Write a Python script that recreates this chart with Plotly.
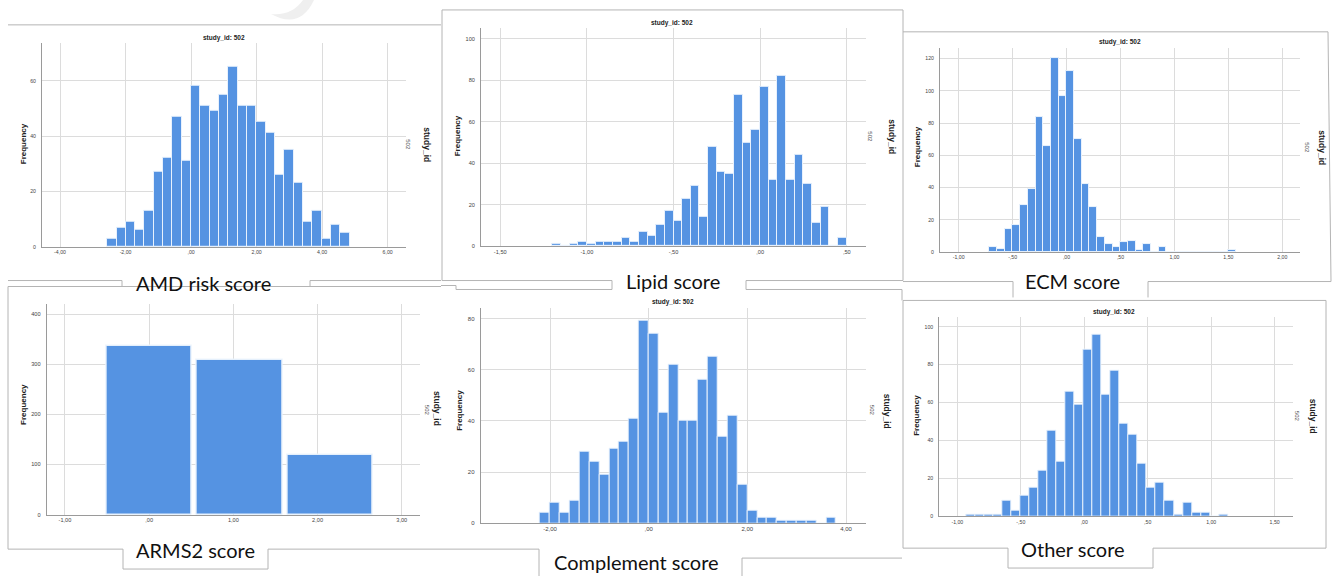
import numpy as np
import plotly.graph_objects as go

W, H = 1340, 579

# ---------------- data ----------------
amd_counts = [3, 7, 9, 6, 13, 27, 32, 47, 31, 58, 51, 49, 55, 65, 51, 51, 45, 41, 26, 35, 23, 9, 13, 3, 8, 5]
amd_bin_start, amd_bin_width = -2.56, 0.2845
amd_xticks = [-4, -2, 0, 2, 4, 6]
amd_xticktext = ["-4,00", "-2,00", ",00", "2,00", "4,00", "6,00"]
amd_yticks = [0, 20, 40, 60]

lipid_counts = [1, 0, 1, 2, 1, 2, 2, 2, 4, 2, 7, 5, 10, 17, 12, 23, 29, 14, 48, 36, 35, 73, 50, 56, 77, 32,
                82, 32, 44, 30, 11, 19, 0, 4]
lipid_bin_start, lipid_bin_width = -1.2, 0.05
lipid_xticks = [-1.5, -1.0, -0.5, 0.0, 0.5]
lipid_xticktext = ["-1,50", "-1,00", "-,50", ",00", ",50"]
lipid_yticks = [0, 20, 40, 60, 80, 100]

ecm_counts = [3, 2, 14, 17, 29, 39, 84, 66, 120, 97, 112, 70, 42, 28, 9, 5, 3, 6, 7, 1, 5, 0, 3,
              0, 0, 0, 0, 0, 0, 0, 0, 1]
ecm_bin_start, ecm_bin_width = -0.716, 0.0714
ecm_xticks = [-1.0, -0.5, 0.0, 0.5, 1.0, 1.5, 2.0]
ecm_xticktext = ["-1,00", "-,50", ",00", ",50", "1,00", "1,50", "2,00"]
ecm_yticks = [0, 20, 40, 60, 80, 100, 120]

arms2_centers = [0.0, 1.075, 2.15]
arms2_counts = [336, 309, 118]
arms2_xticks = [-1, 0, 1, 2, 3]
arms2_xticktext = ["-1,00", ",00", "1,00", "2,00", "3,00"]
arms2_yticks = [0, 100, 200, 300, 400]

comp_counts = [4, 8, 4, 9, 28, 24, 19, 29, 32, 41, 79, 74, 43, 62, 40, 40, 56, 65, 34, 42, 15, 5, 2, 2,
               1, 1, 1, 1, 0, 2]
comp_bin_start, comp_bin_width = -2.2, 0.2
comp_xticks = [-2, 0, 2, 4]
comp_xticktext = ["-2,00", ",00", "2,00", "4,00"]
comp_yticks = [0, 20, 40, 60, 80]

other_counts = [1, 1, 1, 1, 8, 3, 11, 15, 24, 45, 29, 66, 59, 88, 96, 64, 77, 49, 43, 28, 15, 18, 8, 1,
                7, 2, 2, 0, 1]
other_bin_start, other_bin_width = -0.930, 0.0711
other_xticks = [-1.0, -0.5, 0.0, 0.5, 1.0, 1.5]
other_xticktext = ["-1,00", "-,50", ",00", ",50", "1,00", "1,50"]
other_yticks = [0, 20, 40, 60, 80, 100]

captions = ["AMD risk score", "Lipid score", "ECM score", "ARMS2 score", "Complement score", "Other score"]
panel_title = "study_id: 502"
panel_var = "study_id"
panel_val = "502"
y_title = "Frequency"


def centers(start, width, counts):
    return list(start + width * (np.arange(len(counts)) + 0.5))


# ---------------- layout (pixel geometry) ----------------
panels = [
    dict(x=centers(amd_bin_start, amd_bin_width, amd_counts), y=amd_counts, w=amd_bin_width,
         xt=amd_xticks, xtt=amd_xticktext, yt=amd_yticks,
         px=(42, 406, 43, 248), xr=(-4.55, 6.56), ytop=73.7, fs=5.2,
         title=(224, 38), freq=(23, 145), sid=(427, 145), val=(408, 145), cap=(203, 284)),
    dict(x=centers(lipid_bin_start, lipid_bin_width, lipid_counts), y=lipid_counts, w=lipid_bin_width,
         xt=lipid_xticks, xtt=lipid_xticktext, yt=lipid_yticks,
         px=(481, 866, 28, 247.3), xr=(-1.611, 0.611), ytop=105.3, fs=5.6,
         title=(672, 23), freq=(457, 137), sid=(892, 137), val=(870, 137), cap=(672.5, 282)),
    dict(x=centers(ecm_bin_start, ecm_bin_width, ecm_counts), y=ecm_counts, w=ecm_bin_width,
         xt=ecm_xticks, xtt=ecm_xticktext, yt=ecm_yticks,
         px=(940, 1300, 48.3, 253.3), xr=(-1.173, 2.164), ytop=126.5, fs=5.2,
         title=(1120, 42), freq=(917, 148), sid=(1322, 148), val=(1307, 148), cap=(1072.7, 282)),
    dict(x=arms2_centers, y=arms2_counts, w=1.02,
         xt=arms2_xticks, xtt=arms2_xticktext, yt=arms2_yticks,
         px=(46.7, 420, 305.7, 517.3), xr=(-1.217, 3.217), ytop=420, fs=5.6,
         title=None, freq=(24, 407), sid=(437, 410), val=(427, 412), cap=(195, 553)),
    dict(x=centers(comp_bin_start, comp_bin_width, comp_counts), y=comp_counts, w=comp_bin_width,
         xt=comp_xticks, xtt=comp_xticktext, yt=comp_yticks,
         px=(480.7, 866, 309.3, 526), xr=(-3.405, 4.405), ytop=84.2, fs=6.0,
         title=(673, 303.5), freq=(460, 413), sid=(887, 413), val=(872, 413), cap=(636, 565)),
    dict(x=centers(other_bin_start, other_bin_width, other_counts), y=other_counts, w=other_bin_width,
         xt=other_xticks, xtt=other_xticktext, yt=other_yticks,
         px=(939.3, 1292.7, 318.3, 519), xr=(-1.142, 1.642), ytop=105.3, fs=5.2,
         title=(1114, 313.5), freq=(917, 418), sid=(1313, 418), val=(1297, 418), cap=(1073, 552)),
]

BAR = "#5593E2"
GRID = "#dcdcdc"
AXIS = "#9a9a9a"
FRAME = "#b4b4b4"
TXT = "#222222"


def fx(p):
    return p / W


def fy(p):
    return 1 - p / H


fig = go.Figure()
annotations = []
layout = {}

for i, p in enumerate(panels):
    n = "" if i == 0 else str(i + 1)
    x0, x1, top, bot = p["px"]
    fig.add_trace(go.Bar(
        x=p["x"], y=p["y"], width=p["w"],
        marker=dict(color=BAR, line=dict(color="rgba(235,243,253,0.95)", width=1 if i != 3 else 1.5)),
        xaxis="x" + n, yaxis="y" + n, showlegend=False, hoverinfo="x+y"))
    layout["xaxis" + n] = dict(
        domain=[fx(x0), fx(x1)], anchor="y" + n, range=list(p["xr"]),
        tickmode="array", tickvals=p["xt"], ticktext=p["xtt"],
        showgrid=True, gridcolor=GRID, gridwidth=1, zeroline=False,
        showline=True, linecolor=AXIS, linewidth=1, ticks="",
        tickfont=dict(family="Liberation Sans, Arial", size=p["fs"], color="#444"),
        fixedrange=True)
    layout["yaxis" + n] = dict(
        domain=[fy(bot), fy(top)], anchor="x" + n, range=[0, p["ytop"]],
        tickmode="array", tickvals=p["yt"],
        showgrid=True, gridcolor=GRID, gridwidth=1, zeroline=False,
        showline=True, linecolor=AXIS, linewidth=1, ticks="",
        ticklabelstandoff=4,
        tickfont=dict(family="Liberation Sans, Arial", size=p["fs"], color="#444"),
        fixedrange=True)

    def ann(text, pos, size, bold=False, angle=0, family="Liberation Sans, Arial", color=TXT):
        annotations.append(dict(
            text=("<b>%s</b>" % text) if bold else text,
            x=fx(pos[0]), y=fy(pos[1]), xref="paper", yref="paper",
            xanchor="center", yanchor="middle", showarrow=False, textangle=angle,
            font=dict(family=family, size=size, color=color)))

    if p["title"]:
        ann(panel_title, p["title"], 6.5, bold=True)
    ann(y_title, p["freq"], 8, bold=True, angle=-90)
    ann(panel_var, p["sid"], 8.5, bold=True, angle=90)
    ann(panel_val, p["val"], 6, angle=90, color="#555")
    ann(captions[i], p["cap"], 20, family="Lato, Carlito, Calibri, sans-serif", color="#111")

# frame lines around the pasted panels (pixel coordinates)
frame_lines = [
    # AMD
    (8, 25, 441, 25), (8, 282, 122, 282), (310, 282, 441, 282), (122, 282, 122, 288), (310, 282, 310, 288),
    # Lipid
    (442, 10, 442, 282), (442, 10, 903, 10), (903, 10, 903, 282), (442, 282, 612, 282),
    (746, 282, 903, 282), (612, 282, 612, 291), (746, 282, 746, 291),
    # ECM
    (903, 32, 1328, 32), (1328, 32, 1331, 283), (903, 283, 1013, 283), (1148, 283, 1331, 283),
    (1013, 283, 1013, 299), (1148, 283, 1148, 299),
    # ARMS2
    (8, 288, 441, 288), (441, 287, 456, 287), (456, 287, 456, 291), (8, 288, 8, 552), (8, 552, 123, 552),
    (268, 552, 539, 552), (123, 552, 123, 572), (268, 552, 268, 572), (123, 572, 268, 572),
    # Complement
    (456, 291, 612, 291), (746, 291, 902, 291), (902, 291, 902, 302), (742, 561, 902, 561),
    (539, 552, 539, 579), (742, 561, 742, 579),
    # Other
    (903, 302, 1326, 302), (903, 302, 903, 551), (1326, 302, 1326, 551), (903, 551, 1008, 551),
    (1153, 551, 1326, 551), (1008, 551, 1008, 571), (1153, 551, 1153, 571), (1008, 571, 1153, 571),
]
shapes = [dict(type="line", xref="paper", yref="paper", x0=fx(a), y0=fy(b), x1=fx(c), y1=fy(d),
               line=dict(color=FRAME, width=1)) for a, b, c, d in frame_lines]

# faint watermark fragment at the top edge
wm = [(271, 14), (300, 30), (314, 0), (303, 0), (292, 16), (271, 14)]
path = "M {:.5f},{:.5f} Q {:.5f},{:.5f} {:.5f},{:.5f} L {:.5f},{:.5f} Q {:.5f},{:.5f} {:.5f},{:.5f} Z".format(
    *[v for pt in wm for v in (fx(pt[0]), fy(pt[1]))])
shapes.insert(0, dict(type="path", xref="paper", yref="paper", path=path,
                      fillcolor="#efefef", line=dict(width=0), layer="below"))

fig.update_layout(
    width=W, height=H, margin=dict(l=0, r=0, t=0, b=0),
    paper_bgcolor="white", plot_bgcolor="white",
    bargap=0, annotations=annotations, shapes=shapes, **layout)

fig.write_html("out.html", include_plotlyjs=True, config={"displayModeBar": False})
